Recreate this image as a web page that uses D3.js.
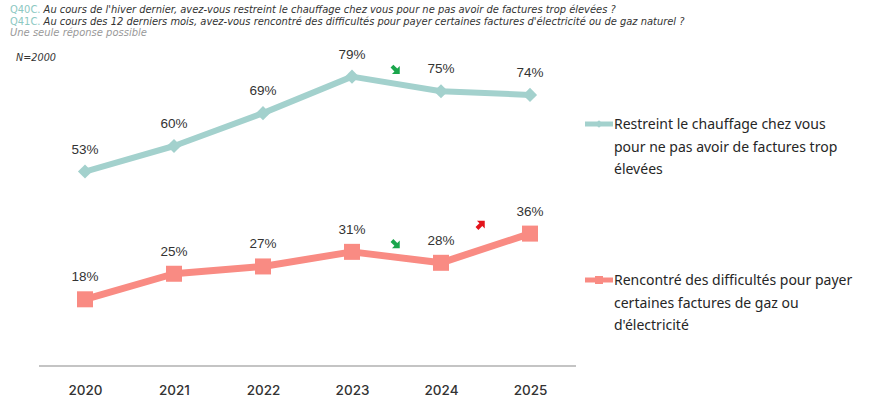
<!DOCTYPE html>
<html><head><meta charset="utf-8">
<script src="https://cdn.jsdelivr.net/npm/d3@7"></script>
<style>body{margin:0;background:#fff}svg{display:block}</style>
</head><body>
<script>
const years = ["2020","2021","2022","2023","2024","2025"];
const restreint = [53,60,69,79,75,74];
const difficultes = [18,25,27,31,28,36];
const seriesNames = ["Restreint le chauffage chez vous|pour ne pas avoir de factures trop|élevées",
  "Rencontré des difficultés pour payer|certaines factures de gaz ou|d'électricité"];
const arrowsTeal = [{between:["2023","2024"], dir:"down"}];
const arrowsPink = [{between:["2023","2024"], dir:"down"},{between:["2024","2025"], dir:"up"}];

const W=882,H=399;
const svg=d3.select("body").append("svg").attr("width",W).attr("height",H);
const teal="#a3d1cd", pink="#f98b83";
const hf="'DejaVu Sans', sans-serif";

// header
const hdr=[{q:"Q40C.",t:" Au cours de l'hiver dernier, avez-vous restreint le chauffage chez vous pour ne pas avoir de factures trop élevées ?",y:13,w:607},
{q:"Q41C.",t:" Au cours des 12 derniers mois, avez-vous rencontré des difficultés pour payer certaines factures d'électricité ou de gaz naturel ?",y:24.5,w:676}];
function fit(t,w,base){const L=t.node().getComputedTextLength();t.attr("font-size",base*w/L);}
hdr.forEach(h=>{
  const t=svg.append("text").attr("x",10).attr("y",h.y).attr("font-family",hf).attr("font-size",9);
  t.append("tspan").attr("fill","#8cc8c2").text(h.q);
  t.append("tspan").attr("fill","#333").attr("font-style","italic").text(h.t);
  fit(t,h.w,9);
});
const u=svg.append("text").attr("x",10).attr("y",36).attr("font-family",hf).attr("font-size",9)
  .attr("font-style","italic").attr("fill","#999").text("Une seule réponse possible");
fit(u,137,9);
const n=svg.append("text").attr("x",16).attr("y",61).attr("font-family",hf).attr("font-size",9)
  .attr("font-style","italic").attr("fill","#333").text("N=2000");
fit(n,40,9);

const x=d3.scalePoint().domain(years).range([85,530]);
const y=d3.scaleLinear().domain([0,100]).range([365,0]);

// axis
const ax=svg.append("g").attr("transform","translate(0,366)")
  .call(d3.axisBottom(x).tickSize(0).tickPadding(19));
ax.select(".domain").remove();
ax.append("line").attr("x1",39).attr("x2",576).attr("stroke","#8a8a8a").attr("stroke-width",1.2);
ax.selectAll("text").attr("font-family","Inter, sans-serif").attr("font-size",13.5).attr("font-weight",500).attr("fill","#333");

const line=d3.line().x((d,i)=>x(years[i])).y(d=>y(d));
svg.append("path").datum(restreint).attr("d",line).attr("fill","none").attr("stroke",teal).attr("stroke-width",6).attr("stroke-linejoin","round");
svg.append("path").datum(difficultes).attr("d",line).attr("fill","none").attr("stroke",pink).attr("stroke-width",7).attr("stroke-linejoin","round");

// markers
svg.selectAll(".dm").data(restreint).enter().append("path")
  .attr("d",d3.symbol().type(d3.symbolSquare).size(100))
  .attr("transform",(d,i)=>`translate(${x(years[i])},${y(d)}) rotate(45)`).attr("fill",teal);
svg.selectAll(".sq").data(difficultes).enter().append("rect")
  .attr("x",(d,i)=>x(years[i])-8).attr("y",d=>y(d)-8).attr("width",16).attr("height",16).attr("fill",pink);

// labels
const lab=(data,off)=>svg.append("g").selectAll("text").data(data).enter().append("text")
  .attr("x",(d,i)=>x(years[i])).attr("y",d=>y(d)-off).attr("text-anchor","middle")
  .attr("font-family","'Liberation Sans', Arial, sans-serif").attr("font-size",13.5).attr("fill","#333")
  .text(d=>d+"%");
lab(restreint,18);
lab(difficultes,18);

// arrows
function arrow(cx,cy,dir,color){
  const g=svg.append("g").attr("transform",`translate(${cx},${cy}) rotate(${dir==="down"?45:-45})`);
  g.append("path").attr("d","M-5,-2 L0.5,-2 L0.5,-5.5 L6,0 L0.5,5.5 L0.5,2 L-5,2 Z").attr("fill",color);
}
arrowsTeal.forEach(a=>arrow((x(a.between[0])+x(a.between[1]))/2-1, y(restreint[3])-7, a.dir,"#1aa64c"));
arrowsPink.forEach((a,k)=>{
  if(a.dir==="down") arrow((x(a.between[0])+x(a.between[1]))/2-1, 244, "down","#1aa64c");
  else arrow((x(a.between[0])+x(a.between[1]))/2-5, 225, "up","#e3131b");
});

// legend
function legend(yc,color,name,shape){
  svg.append("line").attr("x1",585).attr("x2",613).attr("y1",yc).attr("y2",yc).attr("stroke",color).attr("stroke-width",5);
  if(shape==="diamond") svg.append("path").attr("d",d3.symbol().type(d3.symbolSquare).size(30)).attr("transform",`translate(599,${yc}) rotate(45)`).attr("fill",color);
  else svg.append("rect").attr("x",595).attr("y",yc-4).attr("width",8).attr("height",8).attr("fill",color);
  const t=svg.append("text").attr("font-family","'Noto Sans', sans-serif").attr("font-size",14).attr("fill","#262626");
  name.split("|").forEach((s,i)=>t.append("tspan").attr("x",614).attr("y",yc+5+i*22.5).text(s));
}
legend(124,teal,seriesNames[0],"diamond");
legend(280,pink,seriesNames[1],"square");
</script>
</body></html>
